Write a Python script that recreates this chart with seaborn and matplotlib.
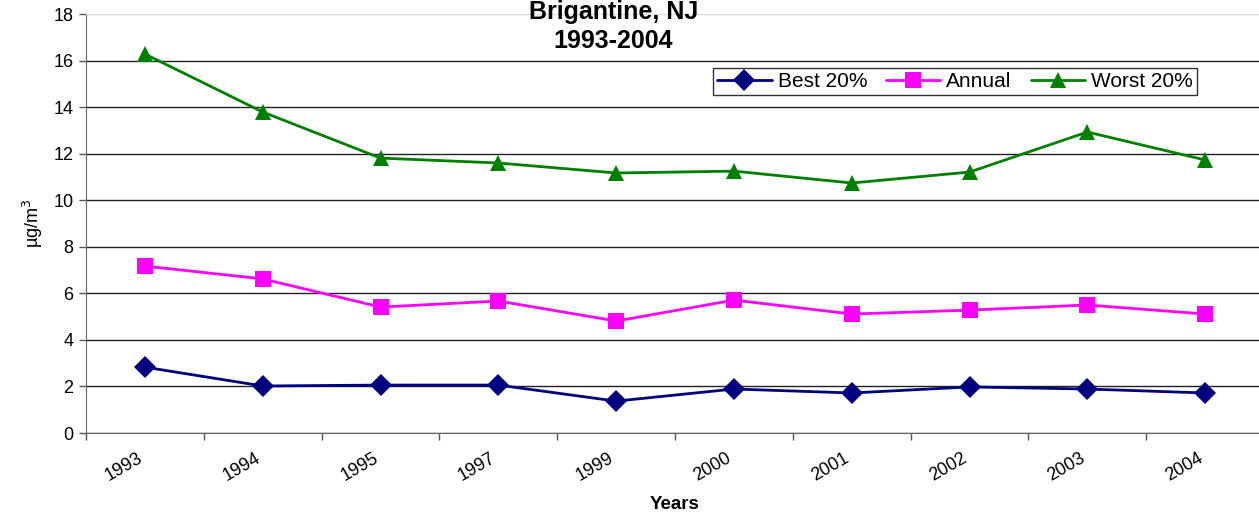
import pandas as pd
import matplotlib
matplotlib.use("Agg")
import matplotlib.pyplot as plt
import matplotlib.transforms as mtransforms
from matplotlib.ticker import FixedLocator
import seaborn as sns

# -----------------------------
# Data
# -----------------------------
years = ["1993", "1994", "1995", "1997", "1999", "2000", "2001", "2002", "2003", "2004"]
best_20 = [2.83, 2.02, 2.06, 2.06, 1.37, 1.89, 1.72, 1.98, 1.89, 1.72]
annual = [7.17, 6.62, 5.41, 5.67, 4.81, 5.71, 5.11, 5.28, 5.50, 5.11]
worst_20 = [16.28, 13.79, 11.81, 11.60, 11.17, 11.25, 10.74, 11.21, 12.93, 11.73]
series = ["Best 20%", "Annual", "Worst 20%"]

df = pd.concat([
    pd.DataFrame({"year": years, "value": best_20, "series": series[0]}),
    pd.DataFrame({"year": years, "value": annual, "series": series[1]}),
    pd.DataFrame({"year": years, "value": worst_20, "series": series[2]}),
])

# -----------------------------
# Plot
# -----------------------------
sns.set_style("white")
plt.rcParams["font.family"] = ["Liberation Sans", "DejaVu Sans"]
plt.rcParams.update({"text.color": "black", "axes.labelcolor": "black",
                     "xtick.color": "black", "ytick.color": "black"})

fig = plt.figure(figsize=(12.59, 5.15), dpi=100)
ax = fig.add_axes([0.0683, 0.1592, 0.9357, 0.8136])

sns.lineplot(
    data=df, x="year", y="value",
    hue="series", style="series",
    hue_order=series, style_order=series,
    palette=["#000080", "#FF00FF", "#008000"],
    markers={"Best 20%": "D", "Annual": "s", "Worst 20%": "^"},
    dashes=False, markersize=11, linewidth=2,
    markeredgewidth=0, ax=ax, sort=False,
)

ax.set_xlim(-0.5, len(years) - 0.5)
ax.set_ylim(0, 18)
ax.set_yticks(range(0, 19, 2))

# Excel-style ticks between categories
ax.xaxis.set_minor_locator(FixedLocator([i + 0.5 for i in range(-1, len(years))]))
ax.tick_params(axis="x", which="major", length=0, pad=12, labelsize=13)
ax.tick_params(axis="x", which="minor", length=5, width=1, color="#555555", direction="out", bottom=True)
ax.tick_params(axis="y", length=5, width=1, color="#555555", direction="out", left=True, labelsize=13, pad=4)
shift = mtransforms.ScaledTranslation(-8 / 100, 0, fig.dpi_scale_trans)
for lbl in ax.get_xticklabels():
    lbl.set_rotation(30)
    lbl.set_ha("right")
    lbl.set_rotation_mode("anchor")
    lbl.set_transform(lbl.get_transform() + shift)

ax.yaxis.grid(True, color="#222222", linewidth=1)
ax.get_ygridlines()[-1].set_color("#dddddd")
ax.set_axisbelow(True)

ax.spines["right"].set_visible(False)
ax.spines["top"].set_color("#dddddd")
ax.spines["left"].set_color("#666666")
ax.spines["bottom"].set_color("#666666")

ax.set_xlabel("Years", fontsize=13.5, fontweight="bold", labelpad=8)
ax.set_ylabel("µg/m$^3$", fontsize=13, labelpad=6)

fig.text(0.487, 1.0, "Brigantine, NJ\n1993-2004", ha="center", va="top",
         fontsize=18, fontweight="bold", linespacing=1.25)

leg = ax.legend(loc="upper right", bbox_to_anchor=(0.943, 0.871), ncol=3,
                fontsize=15, frameon=True, fancybox=False, borderpad=0.2,
                borderaxespad=0, handlelength=2.6, columnspacing=0.9, handletextpad=0.3)
leg.get_frame().set_edgecolor("black")
leg.get_frame().set_linewidth(1)

plt.savefig("out.png", dpi=100)
